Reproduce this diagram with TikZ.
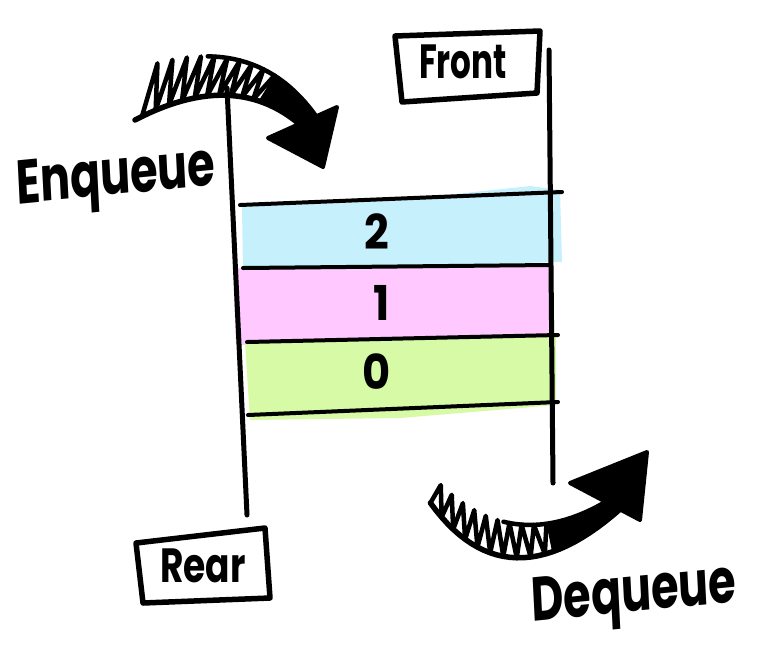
\documentclass[tikz,border=0pt]{standalone}
\usepackage{fontspec}
\setmainfont{Poppins}
\usetikzlibrary{calc}
\definecolor{qblue}{RGB}{198,240,252}
\definecolor{qpink}{RGB}{255,200,255}
\definecolor{qgreen}{RGB}{214,250,165}
\newcommand{\qbez}[5]{%
  \foreach \i in {0,...,#5}{%
    \pgfmathsetmacro\qt{\i/#5}%
    \coordinate (qa) at ($#2!\qt!#3$);%
    \coordinate (qb) at ($#3!\qt!#4$);%
    \coordinate (#1\i) at ($(qa)!\qt!(qb)$);%
  }}
\begin{document}
\begin{tikzpicture}[x=1pt,y=-1pt,
  rail/.style={line width=5pt,line cap=round},
  shelf/.style={line width=4pt,line cap=round},
  tagbox/.style={line width=5.5pt,line cap=round,line join=round},
  hatch/.style={line width=4.5pt,line join=round,line cap=round},
  baseline/.style={line width=5.5pt,line cap=round,line join=round},
  head/.style={line width=4pt,line join=round,fill=black},
  lbl/.style={font=\fontsize{62}{70}\selectfont\bfseries,inner sep=0pt,xscale=0.72},
  num/.style={font=\fontsize{48}{56}\selectfont\bfseries,inner sep=0pt,xscale=0.9},
  tagtext/.style={font=\fontsize{48}{54}\selectfont\bfseries,inner sep=0pt},
  ]
\useasboundingbox (0,0) rectangle (781,665);

% colour bands
\fill[qblue] (242,207) -- (400,200) -- (530,186) -- (560,190) -- (562,262) -- (243,270) -- cycle;
\fill[qpink] (238,268) -- (550,265) -- (552,338) -- (236,345) -- (234,300) -- cycle;
\fill[qgreen] (245,342) -- (556,336) -- (556,405) -- (400,418) -- (250,420) -- cycle;

% rails
\coordinate (lt) at (227,88);
\coordinate (lb) at (247,515);
\coordinate (rt) at (549,50);
\coordinate (rb) at (553,483);
\draw[rail] (lt) -- (lb);
\draw[rail] (rt) -- (rb);

% shelves
\coordinate (s1a) at (240,205); \coordinate (s1b) at (562,192);
\coordinate (s2a) at (243,268); \coordinate (s2b) at (550,265);
\coordinate (s3a) at (247,342); \coordinate (s3b) at (558,335);
\coordinate (s4a) at (248,415); \coordinate (s4b) at (558,402);
\draw[shelf] (s1a) -- (s1b);
\draw[shelf] (s2a) -- (s2b);
\draw[shelf] (s3a) -- (s3b);
\draw[shelf] (s4a) -- (s4b);

% numbers
\node[num] (n2) at (377,232) {2};
\node[num] (n1) at (382,303) {1};
\node[num] (n0) at (377,372) {0};

% Front tag
\coordinate (f1) at (395,36); \coordinate (f2) at (540,31);
\coordinate (f3) at (537,93); \coordinate (f4) at (402,102);
\draw[tagbox] (f1) -- (f2) -- (f3) -- (f4) -- cycle;
\node[tagtext,xscale=0.68] (front) at (463,62) {Front};

% Rear tag
\coordinate (r1) at (136,543); \coordinate (r2) at (265,528);
\coordinate (r3) at (270,598); \coordinate (r4) at (143,603);
\draw[tagbox] (r1) -- (r2) -- (r3) -- (r4) -- cycle;
\node[tagtext,xscale=0.75] (rear) at (203,566) {Rear};

% Enqueue arrow
\qbez{ein}{(135,120)}{(240,65)}{(308,132)}{30}
\qbez{eout}{(142,68)}{(260,28)}{(322,125)}{30}
\draw[hatch] (ein1) \foreach \i [evaluate=\i as \j using int(\i+1)] in {2,4,...,22} { -- (eout\i) -- (ein\j) };
\fill (ein20) \foreach \i in {21,...,30} { -- (ein\i) } \foreach \i in {30,29,...,20} { -- (eout\i) } -- cycle;
\draw[baseline] (ein0) \foreach \i in {1,...,30} { -- (ein\i) };
\draw[hatch] (eout9) \foreach \i in {10,...,30} { -- (eout\i) };
\coordinate (eh1) at (268,138); \coordinate (eh2) at (323,167); \coordinate (eh3) at (337,107);
\draw[head] (eh1) -- (eh2) -- (eh3) -- cycle;

% Dequeue arrow
\qbez{dout}{(425,495)}{(506,618)}{(630,500)}{30}
\qbez{din}{(430,474)}{(510,562)}{(612,498)}{30}
\draw[hatch] (dout1) \foreach \i [evaluate=\i as \j using int(\i+1)] in {2,4,...,22} { -- (din\i) -- (dout\j) };
\fill (din20) \foreach \i in {21,...,30} { -- (din\i) } \foreach \i in {30,29,...,20} { -- (dout\i) } -- cycle;
\draw[baseline] (dout1) \foreach \i in {2,...,30} { -- (dout\i) };
\draw[hatch] (din13) \foreach \i in {14,...,30} { -- (din\i) };
\coordinate (dh1) at (570,483); \coordinate (dh2) at (647,452); \coordinate (dh3) at (640,520);
\draw[head] (dh1) -- (dh2) -- (dh3) -- cycle;

% labels
\node[lbl,rotate=4] (enq) at (116,181) {Enqueue};
\node[lbl,rotate=4] (deq) at (634,598) {Dequeue};
\end{tikzpicture}
\end{document}
